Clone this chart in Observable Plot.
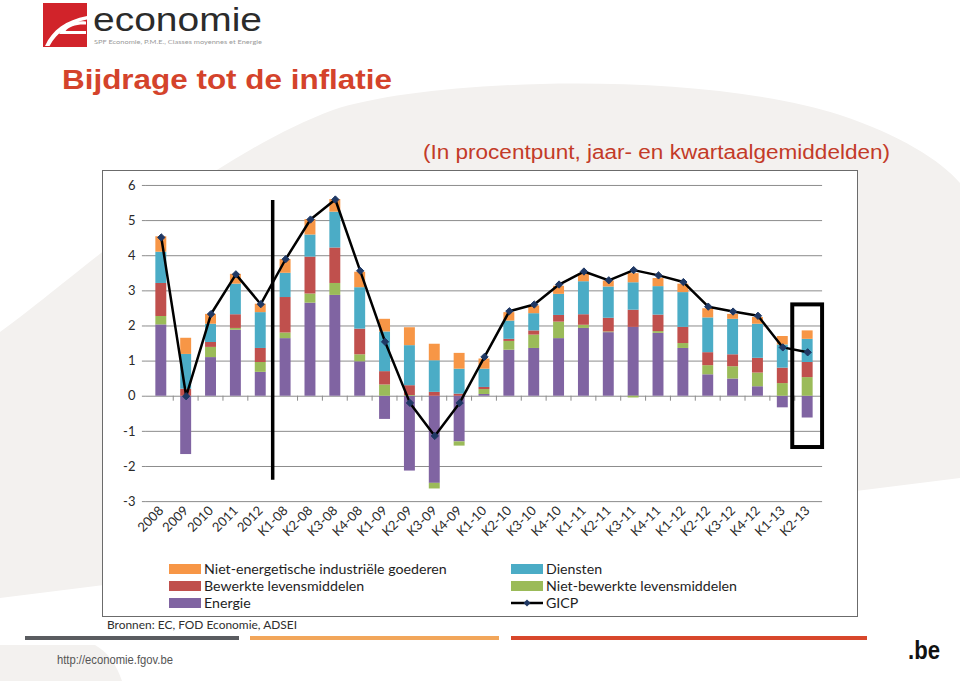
<!DOCTYPE html>
<html>
<head>
<meta charset="utf-8">
<script src="https://cdn.jsdelivr.net/npm/d3@7"></script>
<script src="https://cdn.jsdelivr.net/npm/@observablehq/plot@0.6"></script>
<style>
  html, body { margin: 0; padding: 0; background: #fff; }
  #page { position: relative; width: 960px; height: 681px; overflow: hidden; background: #fff; }
  #bg, #overlay { position: absolute; left: 0; top: 0; }
  #overlay { pointer-events: none; }
  #box { position: absolute; left: 102px; top: 170px; width: 754px; height: 445px; border: 1.5px solid #6b6b6b; background: #fff; }
  #chart { position: absolute; left: 0; top: 0; }
  #chart text { fill: #2a2a2a; }
  .leg { position: absolute; font-family: Lato, "Open Sans", sans-serif; font-size: 14.2px; color: #1e1e1e; line-height: 16px; white-space: nowrap; }
  .sw { position: absolute; width: 32px; height: 10px; }
</style>
</head>
<body>
<div id="page">
  <svg id="bg" width="960" height="681">
    <path d="M0,332 C60,290 200,160 333,110 C430,78 700,70 840,115 C900,135 940,160 960,183 L960,478 L0,598 Z" fill="#f3f1ef"/>
    <path d="M0,645 L95,645 C112,655 118,670 122,681 L0,681 Z" fill="#f3f1ef"/>
  </svg>
  <div id="box">
    <div id="chart"></div>
    <div id="legend"></div>
  </div>
  <svg id="overlay" width="960" height="681"></svg>
</div>
<script>
// ---------- data ----------
const categories = ["2008","2009","2010","2011","2012","K1-08","K2-08","K3-08","K4-08","K1-09","K2-09","K3-09","K4-09","K1-10","K2-10","K3-10","K4-10","K1-11","K2-11","K3-11","K4-11","K1-12","K2-12","K3-12","K4-12","K1-13","K2-13"];
const energie    = [2.03,-1.66,1.10,1.88,0.68,1.64,2.65,2.87,0.98,-0.66,-2.13,-2.48,-1.30,0.05,1.31,1.36,1.64,1.93,1.81,1.96,1.79,1.36,0.61,0.49,0.27,-0.33,-0.62];
const nietBewerkt = [0.24,0.00,0.29,0.05,0.28,0.16,0.26,0.34,0.20,0.32,0.02,-0.16,-0.12,0.14,0.25,0.38,0.47,0.09,0.02,-0.05,0.05,0.14,0.26,0.35,0.39,0.36,0.53];
const bewerkt    = [0.94,0.20,0.14,0.39,0.40,1.01,1.05,1.01,0.73,0.38,0.28,0.11,0.06,0.06,0.06,0.12,0.19,0.30,0.39,0.49,0.47,0.46,0.37,0.34,0.42,0.44,0.43];
const diensten   = [0.89,0.99,0.52,0.87,1.02,0.69,0.63,1.02,1.18,1.13,1.14,0.90,0.71,0.52,0.52,0.49,0.60,0.94,0.89,0.78,0.81,0.99,0.99,1.01,0.97,0.66,0.66];
const nietEnerg  = [0.44,0.46,0.28,0.28,0.24,0.39,0.44,0.36,0.44,0.36,0.51,0.47,0.45,0.29,0.24,0.22,0.23,0.21,0.17,0.26,0.23,0.24,0.26,0.14,0.19,0.24,0.24];
const gicp       = [4.52,0.00,2.34,3.47,2.62,3.90,5.03,5.60,3.57,1.55,-0.19,-1.13,-0.19,1.12,2.42,2.61,3.18,3.55,3.30,3.59,3.44,3.25,2.55,2.41,2.29,1.39,1.25];

const seriesNames  = ["Energie","Niet-bewerkte levensmiddelen","Bewerkte levensmiddelen","Diensten","Niet-energetische industriële goederen"];
const seriesValues = [energie, nietBewerkt, bewerkt, diensten, nietEnerg];
const seriesColors = ["#8064A2","#9BBB59","#C0504D","#4BACC6","#F79646"];
const yTicks = [-3,-2,-1,0,1,2,3,4,5,6];

// annotations (data space)
const separatorAfter = "2012";
const separatorRange = [5.57, -2.39];
const highlightCat = "K2-13";
const highlightRange = [2.6, -1.46];

// ---------- build tables ----------
const stacked = seriesNames.flatMap((s, si) =>
  categories.map((c, i) => ({cat: c, series: s, value: seriesValues[si][i]})));
const gicpData = categories.map((c, i) => ({cat: c, value: gicp[i]}));

const NS = "http://www.w3.org/2000/svg";
function el(name, attrs) {
  const e = document.createElementNS(NS, name);
  for (const k in attrs) e.setAttribute(k, attrs[k]);
  return e;
}

const PAD_IN = 0.56, PAD_OUT = 0.38;
function annotations(index, scales) {
  const x = scales.x, y = scales.y;
  const bw = x.bandwidth ? x.bandwidth() : 0;
  const step = x.step ? x.step() : bw / (1 - PAD_IN);
  const center = c => x(c) + bw / 2;
  const g = el("g", {});
  categories.forEach((c, i) => {
    if (i === 0) return;
    const bx = center(c) - step / 2;
    g.appendChild(el("line", {x1: bx, x2: bx, y1: y(0), y2: y(0) + 5, stroke: "#8c8c8c", "stroke-width": 1}));
  });
  const sx = center(separatorAfter) + step / 2;
  g.appendChild(el("line", {x1: sx, x2: sx, y1: y(separatorRange[0]), y2: y(separatorRange[1]), stroke: "#000", "stroke-width": 3.5}));
  const hx = center(highlightCat);
  g.appendChild(el("rect", {x: hx - 0.6 * step, y: y(highlightRange[0]), width: 1.2 * step, height: y(highlightRange[1]) - y(highlightRange[0]), fill: "none", stroke: "#000", "stroke-width": 4}));
  return g;
}

const chart = Plot.plot({
  width: 756,
  height: 380,
  marginLeft: 43,
  marginRight: 35,
  marginTop: 14,
  marginBottom: 49,
  style: {background: "transparent", color: "#8c8c8c", fontFamily: "Lato, 'Open Sans', sans-serif", fontSize: "13px", overflow: "visible"},
  x: {domain: categories, paddingInner: PAD_IN, paddingOuter: PAD_OUT, round: false, label: null, tickSize: 0, tickPadding: 7, tickRotate: -45},
  y: {domain: [-3, 6], ticks: yTicks, label: null, tickSize: 4, tickPadding: 7, tickFormat: d => String(d)},
  color: {domain: seriesNames, range: seriesColors},
  marks: [
    Plot.ruleY(yTicks, {stroke: "#8c8c8c", strokeWidth: 1}),
    Plot.barY(stacked, {x: "cat", y: "value", fill: "series"}),
    Plot.line(gicpData, {x: "cat", y: "value", stroke: "#000", strokeWidth: 2.5}),
    Plot.dot(gicpData, {x: "cat", y: "value", symbol: "diamond2", r: 3.3, fill: "#1F3864", stroke: "#1F3864", strokeWidth: 1}),
    annotations
  ]
});
document.getElementById("chart").appendChild(chart);

// ---------- legend ----------
const legend = document.getElementById("legend");
const legendItems = [
  {label: "Niet-energetische industriële goederen", color: "#F79646", col: 0, row: 0},
  {label: "Diensten", color: "#4BACC6", col: 1, row: 0},
  {label: "Bewerkte levensmiddelen", color: "#C0504D", col: 0, row: 1},
  {label: "Niet-bewerkte levensmiddelen", color: "#9BBB59", col: 1, row: 1},
  {label: "Energie", color: "#8064A2", col: 0, row: 2},
  {label: "GICP", line: true, col: 1, row: 2}
];
const colX = [66, 408];
const rowY = [398, 415, 432];
legendItems.forEach(it => {
  const x0 = colX[it.col], yc = rowY[it.row];
  if (it.line) {
    const s = el("svg", {width: 34, height: 12});
    s.style.position = "absolute"; s.style.left = x0 + "px"; s.style.top = (yc - 6) + "px";
    s.appendChild(el("line", {x1: 0, x2: 32, y1: 6, y2: 6, stroke: "#000", "stroke-width": 2.5}));
    s.appendChild(el("path", {d: "M16,2.5 L19.5,6 L16,9.5 L12.5,6 Z", fill: "#1F3864"}));
    legend.appendChild(s);
  } else {
    const sw = document.createElement("div");
    sw.className = "sw"; sw.style.left = x0 + "px"; sw.style.top = (yc - 5) + "px"; sw.style.background = it.color;
    legend.appendChild(sw);
  }
  const t = document.createElement("div");
  t.className = "leg"; t.textContent = it.label;
  t.style.left = (x0 + 35) + "px"; t.style.top = (yc - 8) + "px";
  legend.appendChild(t);
});

// ---------- header / footer ----------
const ov = document.getElementById("overlay");
function txt(str, attrs) { const t = el("text", attrs); t.textContent = str; ov.appendChild(t); }
ov.appendChild(el("rect", {x: 43, y: 3, width: 44, height: 44, fill: "#d1232a"}));
ov.appendChild(el("path", {d: "M45,46 C52,30 66,20 87,16 L87,19.5 C70,23 57,32 49.5,46 Z", fill: "#fff"}));
ov.appendChild(el("path", {d: "M61,31 L86,31 L86,34 L59,34 Z", fill: "#fff"}));
ov.appendChild(el("path", {d: "M61,31 C64,24 74,20.5 86,21.5 L86,24.5 C76,24 69,26.5 65.5,31 Z", fill: "#fff"}));
txt("economie", {x: 93, y: 31, "font-family": "Liberation Sans, Arial, sans-serif", "font-size": 33, fill: "#2b2b2b", textLength: 169, lengthAdjust: "spacingAndGlyphs"});
txt("SPF Economie, P.M.E., Classes moyennes et Energie", {x: 94, y: 43.5, "font-family": "Lato, sans-serif", "font-size": 6.5, fill: "#9a9a9a", textLength: 168, lengthAdjust: "spacingAndGlyphs"});
txt("Bijdrage tot de inflatie", {x: 62, y: 89, "font-family": "Liberation Sans, Arial, sans-serif", "font-size": 28, "font-weight": "bold", fill: "#d4432b", textLength: 330, lengthAdjust: "spacingAndGlyphs"});
txt("(In procentpunt, jaar- en kwartaalgemiddelden)", {x: 423, y: 159, "font-family": "Liberation Sans, Arial, sans-serif", "font-size": 20, fill: "#c33b28", textLength: 467, lengthAdjust: "spacingAndGlyphs"});
txt("Bronnen: EC, FOD Economie, ADSEI", {x: 107, y: 629, "font-family": "Lato, sans-serif", "font-size": 11.5, fill: "#2e2e2e", textLength: 190, lengthAdjust: "spacingAndGlyphs"});
ov.appendChild(el("rect", {x: 25, y: 636, width: 214, height: 4, fill: "#5a5c60"}));
ov.appendChild(el("rect", {x: 250, y: 636, width: 249, height: 4, fill: "#f2a65a"}));
ov.appendChild(el("rect", {x: 511, y: 636, width: 356, height: 4, fill: "#d8472b"}));
txt("http://economie.fgov.be", {x: 57, y: 664, "font-family": "Liberation Sans Narrow, Liberation Sans, Arial, sans-serif", "font-size": 12, fill: "#555", textLength: 116, lengthAdjust: "spacingAndGlyphs"});
txt(".be", {x: 908, y: 659, "font-family": "Liberation Sans, Arial, sans-serif", "font-size": 26, "font-weight": "bold", fill: "#111", textLength: 32, lengthAdjust: "spacingAndGlyphs"});
</script>
</body>
</html>
